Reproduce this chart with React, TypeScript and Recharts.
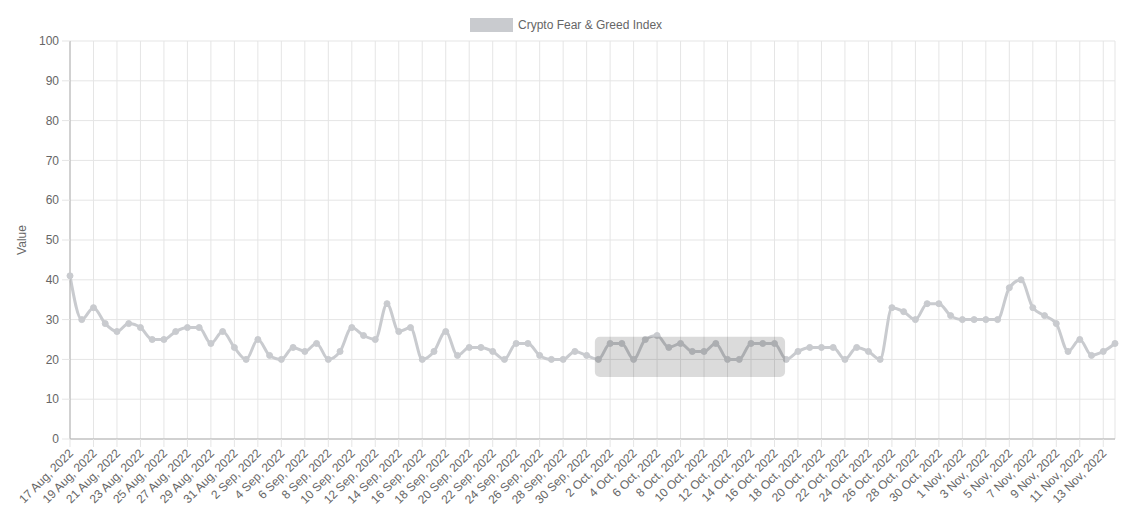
import React from 'react';
import { LineChart, Line, XAxis, YAxis, CartesianGrid, ReferenceArea, Rectangle } from 'recharts';

const dates = [
  '17 Aug, 2022', '18 Aug, 2022', '19 Aug, 2022', '20 Aug, 2022', '21 Aug, 2022', '22 Aug, 2022', '23 Aug, 2022',
  '24 Aug, 2022', '25 Aug, 2022', '26 Aug, 2022', '27 Aug, 2022', '28 Aug, 2022', '29 Aug, 2022', '30 Aug, 2022',
  '31 Aug, 2022', '1 Sep, 2022', '2 Sep, 2022', '3 Sep, 2022', '4 Sep, 2022', '5 Sep, 2022', '6 Sep, 2022',
  '7 Sep, 2022', '8 Sep, 2022', '9 Sep, 2022', '10 Sep, 2022', '11 Sep, 2022', '12 Sep, 2022', '13 Sep, 2022',
  '14 Sep, 2022', '15 Sep, 2022', '16 Sep, 2022', '17 Sep, 2022', '18 Sep, 2022', '19 Sep, 2022', '20 Sep, 2022',
  '21 Sep, 2022', '22 Sep, 2022', '23 Sep, 2022', '24 Sep, 2022', '25 Sep, 2022', '26 Sep, 2022', '27 Sep, 2022',
  '28 Sep, 2022', '29 Sep, 2022', '30 Sep, 2022', '1 Oct, 2022', '2 Oct, 2022', '3 Oct, 2022', '4 Oct, 2022',
  '5 Oct, 2022', '6 Oct, 2022', '7 Oct, 2022', '8 Oct, 2022', '9 Oct, 2022', '10 Oct, 2022', '11 Oct, 2022',
  '12 Oct, 2022', '13 Oct, 2022', '14 Oct, 2022', '15 Oct, 2022', '16 Oct, 2022', '17 Oct, 2022', '18 Oct, 2022',
  '19 Oct, 2022', '20 Oct, 2022', '21 Oct, 2022', '22 Oct, 2022', '23 Oct, 2022', '24 Oct, 2022', '25 Oct, 2022',
  '26 Oct, 2022', '27 Oct, 2022', '28 Oct, 2022', '29 Oct, 2022', '30 Oct, 2022', '31 Oct, 2022', '1 Nov, 2022',
  '2 Nov, 2022', '3 Nov, 2022', '4 Nov, 2022', '5 Nov, 2022', '6 Nov, 2022', '7 Nov, 2022', '8 Nov, 2022',
  '9 Nov, 2022', '10 Nov, 2022', '11 Nov, 2022', '12 Nov, 2022', '13 Nov, 2022', '14 Nov, 2022',
];

const fearGreed = [
  41, 30, 33, 29, 27, 29, 28, 25, 25, 27,
  28, 28, 24, 27, 23, 20, 25, 21, 20, 23,
  22, 24, 20, 22, 28, 26, 25, 34, 27, 28,
  20, 22, 27, 21, 23, 23, 22, 20, 24, 24,
  21, 20, 20, 22, 21, 20, 24, 24, 20, 25,
  26, 23, 24, 22, 22, 24, 20, 20, 24, 24,
  24, 20, 22, 23, 23, 23, 20, 23, 22, 20,
  33, 32, 30, 34, 34, 31, 30, 30, 30, 30,
  38, 40, 33, 31, 29, 22, 25, 21, 22, 24,
];

const yTicks = [0, 10, 20, 30, 40, 50, 60, 70, 80, 90, 100];
const xTicks = [
  0, 2, 4, 6, 8, 10, 12, 14, 16, 18, 20, 22, 24, 26, 28, 30, 32, 34, 36, 38, 40, 42,
  44, 46, 48, 50, 52, 54, 56, 58, 60, 62, 64, 66, 68, 70, 72, 74, 76, 78, 80, 82, 84, 86, 88,
];

// highlighted region (x in day index, y in index value)
const highlightX = [44.7, 60.9];
const highlightY = [15.6, 25.7];

const seriesName = 'Crypto Fear & Greed Index';

const data = dates.map((d, i) => ({ idx: i, date: d, value: fearGreed[i] }));

const FONT = '"Liberation Sans", Arial, Helvetica, sans-serif';
const LINE = '#c9cbcf';
const GRID = '#e5e5e5';

const XTick = (props: any) => {
  const { x, y, payload } = props;
  return (
    <g transform={`translate(${x},${y})`}>
      <text
        x={0}
        y={0}
        dy="0.35em"
        textAnchor="end"
        transform="translate(1,4) rotate(-45)"
        fill="#666"
        fontSize={12}
        fontFamily={FONT}
      >
        {dates[payload.value]}
      </text>
    </g>
  );
};

const YLabel = (props: any) => {
  const vb = props.viewBox || {};
  const cy = vb.y + vb.height / 2;
  return (
    <text
      x={14}
      y={cy}
      transform={`rotate(-90, 14, ${cy})`}
      textAnchor="middle"
      dominantBaseline="central"
      fill="#666"
      fontSize={12}
      fontFamily={FONT}
    >
      Value
    </text>
  );
};

export default function App() {
  return (
    <div style={{ position: 'relative', width: 1116, height: 511, fontFamily: FONT }}>
      <div
        style={{
          position: 'absolute',
          left: 462,
          top: 10,
          display: 'flex',
          alignItems: 'center',
          fontSize: 12,
          color: '#666',
          height: 14,
        }}
      >
        <span style={{ display: 'inline-block', width: 43, height: 14, background: LINE, marginRight: 5 }} />
        <span>{seriesName}</span>
      </div>
      <LineChart
        width={1116}
        height={511}
        data={data}
        margin={{ top: 33, right: 9, left: 0, bottom: 0 }}
      >
        <CartesianGrid stroke={GRID} />
        <XAxis
          dataKey="idx"
          type="number"
          domain={[0, 89]}
          ticks={xTicks}
          interval={0}
          height={80}
          tick={<XTick />}
          tickLine={{ stroke: GRID }}
          tickSize={8}
          tickMargin={0}
          axisLine={{ stroke: '#b0b0b0' }}
          allowDecimals={false}
        />
        <YAxis
          type="number"
          domain={[0, 100]}
          ticks={yTicks}
          width={62}
          tickSize={8}
          tickMargin={3}
          tickLine={{ stroke: GRID }}
          axisLine={{ stroke: '#b0b0b0' }}
          tick={{ fill: '#666', fontSize: 12, fontFamily: FONT }}
          label={<YLabel />}
        />
        <Line
          type="monotone"
          dataKey="value"
          name={seriesName}
          stroke={LINE}
          strokeWidth={3}
          dot={{ r: 3, fill: LINE, stroke: LINE, strokeWidth: 1 }}
          isAnimationActive={false}
        />
        <ReferenceArea
          x1={highlightX[0]}
          x2={highlightX[1]}
          y1={highlightY[0]}
          y2={highlightY[1]}
          fill="#000"
          fillOpacity={0.14}
          stroke="none"
          ifOverflow="visible"
          zIndex={1000}
          shape={(p: any) => <Rectangle {...p} radius={5} />}
        />
      </LineChart>
    </div>
  );
}
